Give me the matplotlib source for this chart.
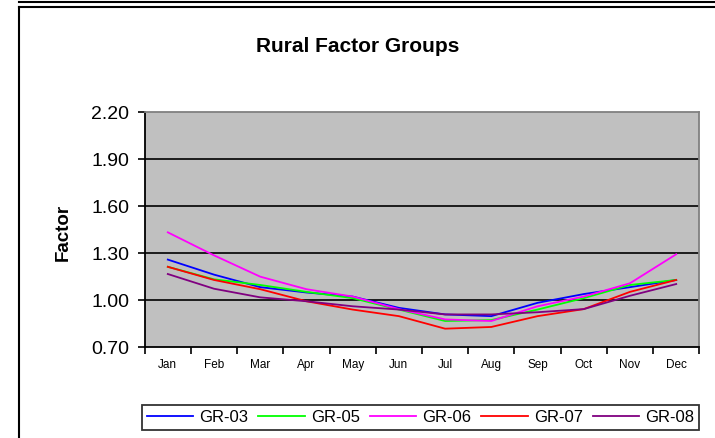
import matplotlib
matplotlib.use("Agg")
import matplotlib.pyplot as plt
from matplotlib.lines import Line2D
import numpy as np

plt.rcParams['font.family'] = ['Liberation Sans', 'DejaVu Sans']

months = ["Jan", "Feb", "Mar", "Apr", "May", "Jun", "Jul", "Aug", "Sep", "Oct", "Nov", "Dec"]
gr03 = [1.256, 1.16, 1.08, 1.046, 1.02, 0.948, 0.906, 0.895, 0.98, 1.036, 1.08, 1.126]
gr05 = [1.21, 1.13, 1.094, 1.05, 1.01, 0.937, 0.864, 0.87, 0.937, 1.01, 1.094, 1.126]
gr06 = [1.43, 1.283, 1.147, 1.067, 1.02, 0.94, 0.874, 0.864, 0.958, 1.02, 1.105, 1.29]
gr07 = [1.21, 1.126, 1.067, 0.99, 0.937, 0.895, 0.815, 0.826, 0.895, 0.94, 1.05, 1.126]
gr08 = [1.164, 1.07, 1.015, 0.99, 0.958, 0.937, 0.906, 0.906, 0.92, 0.94, 1.025, 1.10]
series_names = ["GR-03", "GR-05", "GR-06", "GR-07", "GR-08"]
series_values = [gr03, gr05, gr06, gr07, gr08]
colors = ["#0000FF", "#00FF00", "#FF00FF", "#FF0000", "#800080"]
yticks = [0.70, 1.00, 1.30, 1.60, 1.90, 2.20]

W, H = 715, 439
fig = plt.figure(figsize=(W / 100, H / 100), dpi=100)
fig.patch.set_facecolor("white")

def fx(px):
    return px / W

def fy(py):
    return 1 - py / H

# outer frame lines
fig.add_artist(Line2D([fx(19), 1.0], [fy(2.5), fy(2.5)], color="black", lw=1.5, transform=fig.transFigure))
fig.add_artist(Line2D([fx(19), 1.0], [fy(8), fy(8)], color="black", lw=1.5, transform=fig.transFigure))
fig.add_artist(Line2D([fx(19), fx(19)], [fy(8), 0], color="black", lw=1.5, transform=fig.transFigure))

left, right, top, bottom = 144.7, 699.3, 112.7, 347.7
ax = fig.add_axes([fx(left), fy(bottom), fx(right) - fx(left), fy(top) - fy(bottom)])
ax.set_facecolor("#C0C0C0")

x = np.arange(len(months))
for name, vals, c in zip(series_names, series_values, colors):
    ax.plot(x, vals, color=c, lw=1.3, label=name, zorder=3)

ax.set_xlim(-0.5, len(months) - 0.5)
ax.set_ylim(0.70, 2.20)
ax.set_yticks(yticks)
ax.set_yticklabels([f"{v:.2f}" for v in yticks], fontsize=14)
for v in yticks[1:-1]:
    ax.axhline(v, color="black", lw=1.2, zorder=2)

ax.set_xticks(x)
ax.set_xticklabels(months, fontsize=8.5)
ax.set_xticks(np.arange(-0.5, len(months), 1), minor=True)
ax.tick_params(axis="x", which="major", length=0, pad=8)
ax.tick_params(axis="x", which="minor", length=5, width=1.2, direction="out")
ax.tick_params(axis="y", length=5, width=1.2, direction="out", pad=6)

for s in ["left", "bottom"]:
    ax.spines[s].set_color("black")
    ax.spines[s].set_linewidth(1.3)
for s in ["top", "right"]:
    ax.spines[s].set_color("#808080")
    ax.spines[s].set_linewidth(1.3)

fig.text(fx(63), fy(232), "Factor", fontsize=13.5, fontweight="bold",
         rotation=90, ha="center", va="center")

fig.text(fx(358), fy(47), "Rural Factor Groups", fontsize=15, fontweight="bold",
         ha="center", va="center")

leg = fig.legend(loc="center", bbox_to_anchor=(fx((144 + 697) / 2), fy(418)), ncol=5,
                 fontsize=12, frameon=True, fancybox=False, edgecolor="black",
                 handlelength=2.8, columnspacing=0.6, handletextpad=0.35,
                 borderpad=0.3, borderaxespad=0.0)
leg.get_frame().set_linewidth(1.3)

fig.savefig("out.png", dpi=100)
